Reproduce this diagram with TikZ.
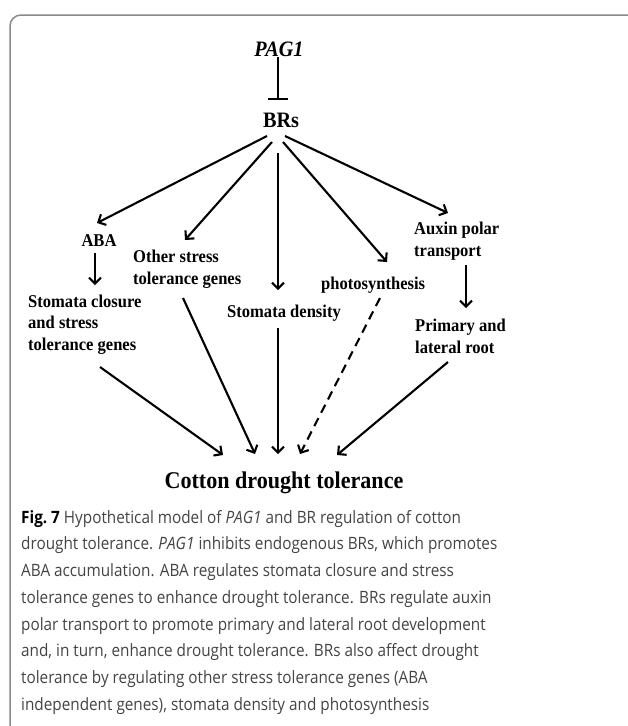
\documentclass[tikz,border=0pt]{standalone}
\usepackage{fontspec}
\setmainfont{Liberation Serif}[FakeStretch=0.92]
\newfontfamily\capfont{Open Sans}[FakeStretch=0.9]
\usetikzlibrary{arrows.meta}
\definecolor{captxt}{HTML}{444444}
\definecolor{framec}{HTML}{8A8A8A}
\begin{document}
\begin{tikzpicture}[x=1pt,y=-1pt,
  lbl/.style={font=\fontsize{18}{21.5}\selectfont\bfseries, inner sep=0pt, align=left},
  big/.style={font=\fontsize{22}{26}\selectfont\bfseries, inner sep=0pt},
  arr/.style={line width=2.1pt, -{Straight Barb[length=6pt,width=12pt]}},
  dasharr/.style={arr, dash pattern=on 9pt off 6pt},
  inhib/.style={line width=2.1pt, -{Bar[width=20pt,line width=2.1pt]}},
  framebox/.style={draw=framec, line width=1.5pt, rounded corners=11pt},
  captext/.style={font=\capfont\fontsize{17}{26.7}\selectfont, text=captxt, inner sep=0pt, align=left, anchor=north west}]
\useasboundingbox (0,0) rectangle (628,726);
\fill[white] (0,0) rectangle (628,726);
\begin{scope}
\clip (0,0) rectangle (628,726);
\draw[framebox] (700,15) -- (10,15) -- (10,760);
\end{scope}

% nodes
\node[big, font=\fontsize{22}{26}\selectfont\bfseries\itshape] (pag) at (279,49) {PAG1};
\node[big] (brs) at (281,120) {BRs};
\node[lbl] (aba) at (99,241) {ABA};
\node[lbl, anchor=west] (stc) at (28,324.5) {Stomata closure\\and stress\\tolerance genes};
\node[lbl, anchor=west] (oth) at (133,269) {Other stress\\tolerance genes};
\node[lbl, anchor=west] (den) at (227,313) {Stomata density};
\node[lbl, anchor=west] (pho) at (321,285) {photosynthesis};
\node[lbl, anchor=west] (aux) at (414,241) {Auxin polar\\transport};
\node[lbl, anchor=west] (pri) at (415,336.5) {Primary and\\lateral root};
\node[big, font=\fontsize{24}{28}\selectfont\bfseries] (cot) at (284,483) {Cotton drought tolerance};

% connector end points
\coordinate (pagS) at (278,57);
\coordinate (brsT) at (278,100);
\coordinate (b1) at (267,136); \coordinate (abaN) at (97,223);
\coordinate (b2) at (272,142); \coordinate (othN) at (185,240);
\coordinate (b3) at (278,153); \coordinate (denN) at (278,290);
\coordinate (b4) at (283,142); \coordinate (phoN) at (387,262);
\coordinate (b5) at (285,136); \coordinate (auxN) at (448,213);
\coordinate (abaS) at (95,253); \coordinate (stcN) at (95,285);
\coordinate (auxS) at (466,265); \coordinate (priN) at (466,308);
\coordinate (stcS) at (100,367); \coordinate (c1) at (223,455);
\coordinate (othS) at (183,298); \coordinate (c2) at (255,454);
\coordinate (denS) at (278,328); \coordinate (c3) at (278,454);
\coordinate (phoS) at (380,298); \coordinate (c4) at (300,454);
\coordinate (priS) at (448,362); \coordinate (c5) at (337,455);

\draw[inhib] (pagS) -- (brsT);
\draw[arr] (b1) -- (abaN);
\draw[arr] (b2) -- (othN);
\draw[arr] (b3) -- (denN);
\draw[arr] (b4) -- (phoN);
\draw[arr] (b5) -- (auxN);
\draw[arr] (abaS) -- (stcN);
\draw[arr] (auxS) -- (priN);
\draw[arr] (stcS) -- (c1);
\draw[arr] (othS) -- (c2);
\draw[arr] (denS) -- (c3);
\draw[dasharr] (phoS) -- (c4);
\draw[arr] (priS) -- (c5);

\node[captext] (caption) at (21,510) {{\bfseries\color{black}Fig.~7} Hypothetical model of \textit{PAG1} and BR regulation of cotton\\
drought tolerance. \textit{PAG1} inhibits endogenous BRs, which promotes\\
ABA accumulation. ABA regulates stomata closure and stress\\
tolerance genes to enhance drought tolerance. BRs regulate auxin\\
polar transport to promote primary and lateral root development\\
and, in turn, enhance drought tolerance. BRs also affect drought\\
tolerance by regulating other stress tolerance genes (ABA\\
independent genes), stomata density and photosynthesis};
\end{tikzpicture}
\end{document}
